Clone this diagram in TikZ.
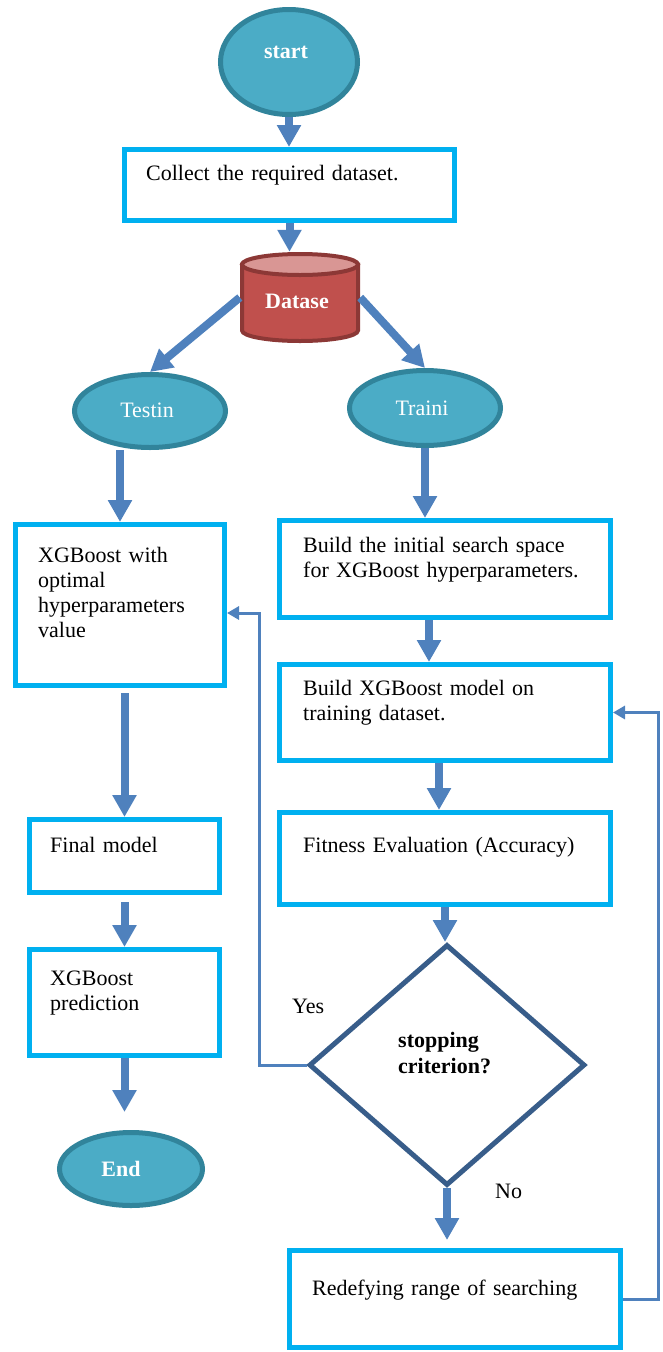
\documentclass[tikz,border=0pt]{standalone}
\usepackage{fontspec}
\setmainfont{Liberation Serif}
\usetikzlibrary{shapes.geometric,arrows.meta}
\definecolor{arrowblue}{RGB}{79,129,189}
\definecolor{boxcyan}{RGB}{0,176,240}
\definecolor{ovalfill}{RGB}{75,172,198}
\definecolor{ovalline}{RGB}{49,132,155}
\definecolor{datafill}{RGB}{192,80,77}
\definecolor{dataline}{RGB}{140,56,54}
\definecolor{datatop}{RGB}{217,150,148}
\definecolor{decline}{RGB}{56,93,138}

\tikzset{
  stepbox/.style={rectangle, draw=boxcyan, fill=white, line width=5pt},
  oval/.style={ellipse, draw=ovalline, fill=ovalfill, line width=5pt},
  txt/.style={anchor=base west, inner sep=0pt, align=left, text width=320pt,
    font=\fontsize{22}{25}\selectfont},
  ovaltxt/.style={anchor=base, inner sep=0pt, text=white, font=\fontsize{22}{25}\selectfont},
  ovalbold/.style={ovaltxt, font=\fontsize{22}{25}\selectfont\bfseries},
  flow/.style={draw=arrowblue, line width=8pt, -{Triangle[length=22pt,width=23pt]}},
  loopline/.style={draw=arrowblue, line width=3pt, -{Triangle[length=12pt,width=13pt]}}
}

\begin{document}
\begin{tikzpicture}[x=1pt, y=-1pt]
  \useasboundingbox (0,0) rectangle (662,1352);

  % shapes
  \node[oval, minimum width=137pt, minimum height=105pt] (start) at (289,62) {};
  \node[stepbox, minimum width=330pt, minimum height=71pt] (collect) at (289.5,185) {};
  \node[minimum width=120pt, minimum height=91pt, inner sep=0pt] (datase) at (300,297.5) {};
  \draw[dataline, fill=datafill, line width=4pt] (242,264.5) -- (242,330.5)
    arc[start angle=180, end angle=360, x radius=58pt, y radius=10.5pt] -- (358,264.5) -- cycle;
  \draw[dataline, fill=datatop, line width=4pt] (300,264.5) ellipse [x radius=58pt, y radius=10.5pt];
  \node[oval, minimum width=151pt, minimum height=73pt] (testin) at (150,411) {};
  \node[oval, minimum width=151pt, minimum height=75pt] (traini) at (425,408) {};
  \node[stepbox, minimum width=209pt, minimum height=161pt] (xgbopt) at (120,605) {};
  \node[stepbox, minimum width=190pt, minimum height=73pt] (final) at (124.5,856) {};
  \node[stepbox, minimum width=190pt, minimum height=106pt] (predict) at (124.5,1002.5) {};
  \node[oval, minimum width=143pt, minimum height=73pt] (finish) at (131,1169) {};
  \node[stepbox, minimum width=331pt, minimum height=97pt] (init) at (445,569) {};
  \node[stepbox, minimum width=331pt, minimum height=96pt] (model) at (445,712.5) {};
  \node[stepbox, minimum width=331pt, minimum height=92pt] (fitness) at (445,858.5) {};
  \node[diamond, draw=decline, fill=white, line width=5pt,
    minimum width=276pt, minimum height=241pt] (stop) at (447,1065) {};
  \node[stepbox, minimum width=331pt, minimum height=97pt] (redef) at (455,1299) {};

  % texts
  \node[ovalbold] (start-t) at (286,58) {start};
  \node[txt] (collect-t) at (146,180) {Collect the required dataset.};
  \node[ovalbold] (datase-t) at (297,308) {Datase};
  \node[ovaltxt] (testin-t) at (147,417) {Testin};
  \node[ovaltxt] (traini-t) at (422,415) {Traini};
  \node[txt] (xgbopt-t) at (38,562) {XGBoost with\\optimal\\hyperparameters\\value};
  \node[txt] (init-t) at (303,552) {Build the initial search space\\for XGBoost hyperparameters.};
  \node[txt] (model-t) at (303,695) {Build XGBoost model on\\training dataset.};
  \node[txt] (fitness-t) at (303,852) {Fitness Evaluation (Accuracy)};
  \node[txt, font=\fontsize{22}{26}\selectfont\bfseries] (stop-t) at (398,1047) {stopping\\criterion?};
  \node[txt] (redef-t) at (312,1295) {Redefying range of searching};
  \node[txt] (final-t) at (50,852) {Final model};
  \node[txt] (predict-t) at (50,985) {XGBoost\\prediction};
  \node[ovalbold] (finish-t) at (121,1176) {End};
  \node[txt] (yes) at (292,1013) {Yes};
  \node[txt] (no) at (495,1198) {No};

  % connectors
  \draw[flow] (start.south) -- (start.south |- collect.north);
  \draw[flow] (collect.south) -- (collect.south |- datase.north);
  \draw[flow] (datase.west) -- (testin.north);
  \draw[flow] (datase.east) -- (traini.north);
  \draw[flow] (xgbopt.north |- testin.south) -- (xgbopt.north);
  \draw[flow] (traini.south) -- (traini.south |- init.north);
  \draw[flow] ([xshift=-16pt]init.south) -- ([xshift=-16pt]model.north);
  \draw[flow] ([xshift=-6pt]model.south) -- ([xshift=-6pt]fitness.north);
  \draw[flow] (fitness.south) -- (fitness.south |- stop.north);
  \draw[flow, shorten >=8pt] (stop.south) -- (stop.south |- redef.north);
  \draw[flow, shorten <=5pt] (final.north |- xgbopt.south) -- (final.north);
  \draw[flow, shorten <=7pt] (final.south) -- (predict.north);
  \draw[flow, shorten >=18pt] (predict.south) -- (predict.south |- finish.north);
  \draw[loopline] (stop.west) -| (259,613) -- ([yshift=-8pt]xgbopt.east);
  \draw[loopline] (redef.east) -- ++(35,0) |- (model.east);
\end{tikzpicture}
\end{document}
